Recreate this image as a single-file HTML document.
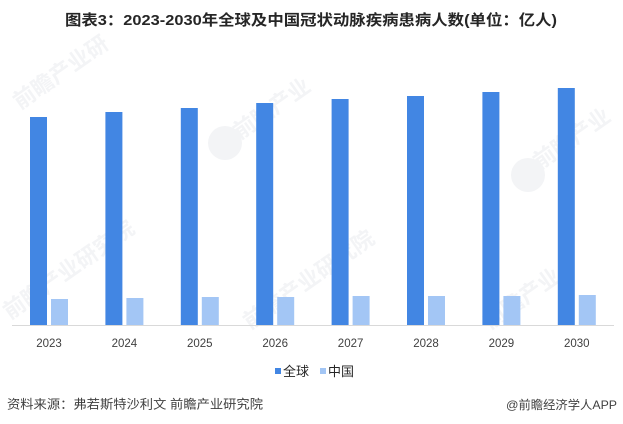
<!DOCTYPE html>
<html>
<head>
<meta charset="utf-8">
<style>
  html,body{margin:0;padding:0;background:#fff;}
  svg{display:block;}
  text{font-family:"Liberation Sans","Noto Sans CJK SC",sans-serif;}
</style>
</head>
<body>
<svg width="623" height="424" viewBox="0 0 623 424" xmlns="http://www.w3.org/2000/svg">
  <rect width="623" height="424" fill="#ffffff"/>

  <!-- faint watermarks -->
  <g fill="#f3f4f6" font-size="22" font-weight="bold">
    <text x="0" y="0" transform="translate(20,110) rotate(-35)">前瞻产业研</text>
    <text x="0" y="0" transform="translate(240,140) rotate(-35)">前瞻产业</text>
    <text x="0" y="0" transform="translate(10,320) rotate(-35)">前瞻产业研究院</text>
    <text x="0" y="0" transform="translate(250,330) rotate(-35)">前瞻产业研究院</text>
    <text x="0" y="0" transform="translate(490,330) rotate(-35)">前瞻产业</text>
    <text x="0" y="0" transform="translate(540,170) rotate(-35)">前瞻产业</text>
  </g>
  <circle cx="225" cy="143" r="17" fill="#f3f4f6"/>
  <circle cx="528" cy="175" r="17" fill="#f3f4f6"/>

  <!-- title -->
  <text x="65" y="25" font-size="15" font-weight="bold" fill="#262626" textLength="492" lengthAdjust="spacingAndGlyphs">图表3：2023-2030年全球及中国冠状动脉疾病患病人数(单位：亿人)</text>

  <!-- bars: 全球 -->
  <g fill="#4286E3">
    <rect x="30" y="117" width="17" height="208"/>
    <rect x="105.4" y="112" width="17" height="213"/>
    <rect x="180.8" y="108" width="17" height="217"/>
    <rect x="256.2" y="103" width="17" height="222"/>
    <rect x="331.6" y="99" width="17" height="226"/>
    <rect x="407" y="96" width="17" height="229"/>
    <rect x="482.4" y="92" width="17" height="233"/>
    <rect x="557.8" y="88" width="17" height="237"/>
  </g>
  <!-- bars: 中国 -->
  <g fill="#A3C6F5">
    <rect x="51" y="299" width="17" height="26"/>
    <rect x="126.4" y="298" width="17" height="27"/>
    <rect x="201.8" y="297" width="17" height="28"/>
    <rect x="277.2" y="297" width="17" height="28"/>
    <rect x="352.6" y="296" width="17" height="29"/>
    <rect x="428" y="296" width="17" height="29"/>
    <rect x="503.4" y="296" width="17" height="29"/>
    <rect x="578.8" y="295" width="17" height="30"/>
  </g>

  <!-- axis -->
  <line x1="12" y1="325.5" x2="614" y2="325.5" stroke="#d9d9d9" stroke-width="1"/>

  <!-- x labels -->
  <g font-size="11.5" fill="#404040" text-anchor="middle">
    <text x="49" y="347">2023</text>
    <text x="124.4" y="347">2024</text>
    <text x="199.8" y="347">2025</text>
    <text x="275.2" y="347">2026</text>
    <text x="350.6" y="347">2027</text>
    <text x="426" y="347">2028</text>
    <text x="501.4" y="347">2029</text>
    <text x="576.8" y="347">2030</text>
  </g>

  <!-- legend -->
  <rect x="275" y="368" width="6" height="6" fill="#4286E3"/>
  <text x="283" y="376" font-size="13" fill="#262626">全球</text>
  <rect x="320" y="368" width="6" height="6" fill="#A3C6F5"/>
  <text x="328" y="376" font-size="13" fill="#262626">中国</text>

  <!-- footer -->
  <text x="7" y="408.5" font-size="12.5" fill="#404040" textLength="256" lengthAdjust="spacingAndGlyphs">资料来源：弗若斯特沙利文 前瞻产业研究院</text>
  <text x="506" y="409" font-size="12" fill="#404040" textLength="111" lengthAdjust="spacingAndGlyphs">@前瞻经济学人APP</text>
</svg>
</body>
</html>
